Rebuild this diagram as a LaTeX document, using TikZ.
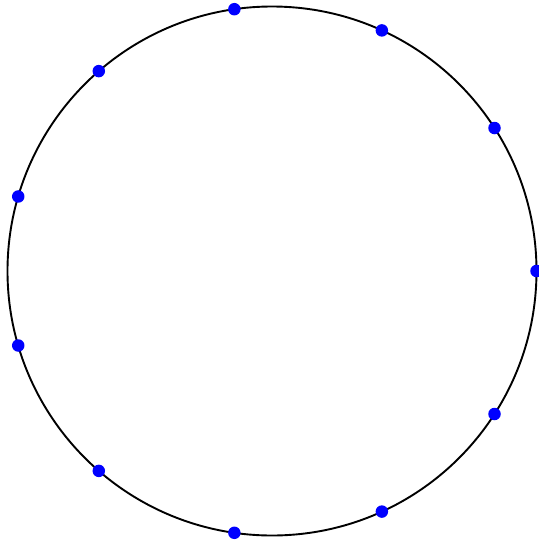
\documentclass[tikz,border=0pt]{standalone}
\usetikzlibrary{calc}
\begin{document}
\begin{tikzpicture}[x=1pt,y=1pt,
  dot/.style={circle,fill=blue,inner sep=0pt,minimum size=12.5pt}]
\useasboundingbox (0,0) rectangle (539,-542);
\coordinate (c) at (272,-271);
\draw[line width=1.9pt] (c) circle (264.5);
\foreach \i in {0,...,10}{
  \node[dot] (p\i) at ($(c)+({\i*360/11}:264.5)$) {};
}
\end{tikzpicture}
\end{document}
